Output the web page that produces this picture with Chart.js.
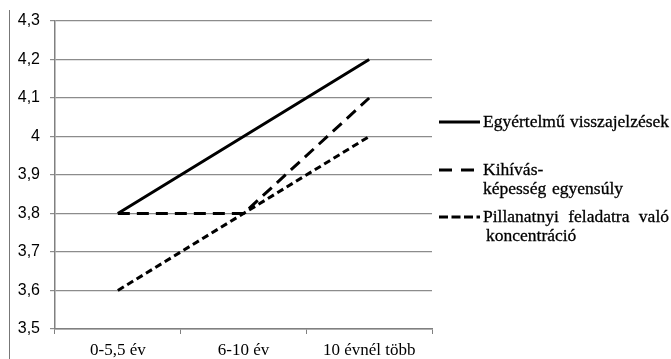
<!DOCTYPE html>
<html>
<head>
<meta charset="utf-8">
<script src="https://cdn.jsdelivr.net/npm/chart.js@4/dist/chart.umd.min.js"></script>
<style>
  html, body { margin: 0; padding: 0; background: #fff; }
  #wrap { position: relative; width: 671px; height: 359px; overflow: hidden; }
  #frame { position: absolute; left: 9px; top: 10px; width: 0; height: 349px; border-left: 1px solid #777; }
  #legend { position: absolute; left: 438px; top: 0; width: 233px; font-family: "Liberation Serif", "DejaVu Serif", serif; font-size: 17.5px; color: #000; -webkit-text-stroke: 0.3px #000; }
  .item { position: absolute; left: 0; display: flex; align-items: flex-start; }
  .item svg { flex: none; margin-right: 3px; }
  .txt { line-height: 19px; white-space: nowrap; }
  .ln { display: block; white-space: nowrap; }
</style>
</head>
<body>
<div id="wrap">
  <canvas id="c" width="671" height="359"></canvas>
  <div id="frame"></div>
  <div id="legend"></div>
</div>
<script>
const categories = ['0-5,5 év', '6-10 év', '10 évnél több'];
const seriesNames = [
  ['Egyértelmű visszajelzések'],
  ['Kihívás-', 'képesség egyensúly'],
  ['Pillanatnyi feladatra való', 'koncentráció']
];
const egyertelmu = [3.8, 4.0, 4.2];
const kihivas = [3.8, 3.8, 4.1];
const pillanatnyi = [3.6, 3.8, 4.0];
const yTickValues = [3.5, 3.6, 3.7, 3.8, 3.9, 4.0, 4.1, 4.2, 4.3];
const yTickLabels = ['3,5', '3,6', '3,7', '3,8', '3,9', '4', '4,1', '4,2', '4,3'];

const dashes = [[], [12, 7], [7, 4]];
const widths = [3, 3, 3];
const legendTops = [112, 160, 207];
// target line widths (px) of the justified legend text lines, 0 = natural
const lineTargets = [[186], [0, 140], [186, 0]];
const lineIndent = [[0], [0, 0], [0, 3]];

const datasets = [egyertelmu, kihivas, pillanatnyi].map((d, i) => ({
  label: seriesNames[i].join(' '),
  data: d,
  borderColor: '#000',
  backgroundColor: '#000',
  borderWidth: widths[i],
  borderDash: dashes[i],
  borderCapStyle: 'butt',
  pointRadius: 0,
  tension: 0,
  fill: false
}));

new Chart(document.getElementById('c'), {
  type: 'line',
  data: { labels: categories, datasets: datasets },
  options: {
    responsive: false,
    animation: false,
    events: [],
    layout: { padding: { left: 0, right: 239, top: 21, bottom: 0 } },
    plugins: { legend: { display: false }, tooltip: { enabled: false } },
    scales: {
      x: {
        offset: true,
        grid: { display: true, drawOnChartArea: false, drawTicks: true, tickLength: 5, color: '#808080', offset: true },
        border: { display: true, color: '#808080', width: 1.5 },
        ticks: { color: '#000', padding: 6, font: { family: '"Liberation Serif", serif', size: 17 }, maxRotation: 0 },
        afterFit: s => { s.height = 30; }
      },
      y: {
        min: 3.5, max: 4.3,
        afterBuildTicks: s => { s.ticks = yTickValues.map(v => ({ value: v })); },
        grid: { color: '#8c8c8c', lineWidth: 1.2, tickLength: 5 },
        border: { display: true, color: '#808080', width: 1.5 },
        ticks: {
          color: '#000', padding: 10,
          font: { family: '"Liberation Sans", Arial, sans-serif', size: 16 },
          callback: (v, i) => yTickLabels[i]
        },
        afterFit: s => { s.width = 55; }
      }
    }
  }
});

// HTML legend built from dataset styles
const legend = document.getElementById('legend');
const mctx = document.createElement('canvas').getContext('2d');
mctx.font = '17.5px "Liberation Serif"';
datasets.forEach((ds, i) => {
  const item = document.createElement('div');
  item.className = 'item';
  item.style.top = legendTops[i] + 'px';
  const ns = 'http://www.w3.org/2000/svg';
  const svg = document.createElementNS(ns, 'svg');
  svg.setAttribute('width', '42');
  svg.setAttribute('height', '19');
  const ln = document.createElementNS(ns, 'line');
  ln.setAttribute('x1', '1'); ln.setAttribute('x2', '42');
  ln.setAttribute('y1', '10'); ln.setAttribute('y2', '10');
  ln.setAttribute('stroke', '#000');
  ln.setAttribute('stroke-width', String(ds.borderWidth));
  if (i === 1) ln.setAttribute('stroke-dasharray', '13 9');
  if (i === 2) ln.setAttribute('stroke-dasharray', '9 3.5');
  svg.appendChild(ln);
  const txt = document.createElement('div');
  txt.className = 'txt';
  seriesNames[i].forEach((s, j) => {
    const span = document.createElement('span');
    span.className = 'ln';
    span.textContent = s;
    const target = lineTargets[i][j];
    const spaces = (s.match(/ /g) || []).length;
    if (target && spaces) {
      const w = mctx.measureText(s).width;
      span.style.wordSpacing = ((target - w) / spaces) + 'px';
    }
    span.style.paddingLeft = lineIndent[i][j] + 'px';
    txt.appendChild(span);
  });
  item.appendChild(svg);
  item.appendChild(txt);
  legend.appendChild(item);
});
</script>
</body>
</html>
